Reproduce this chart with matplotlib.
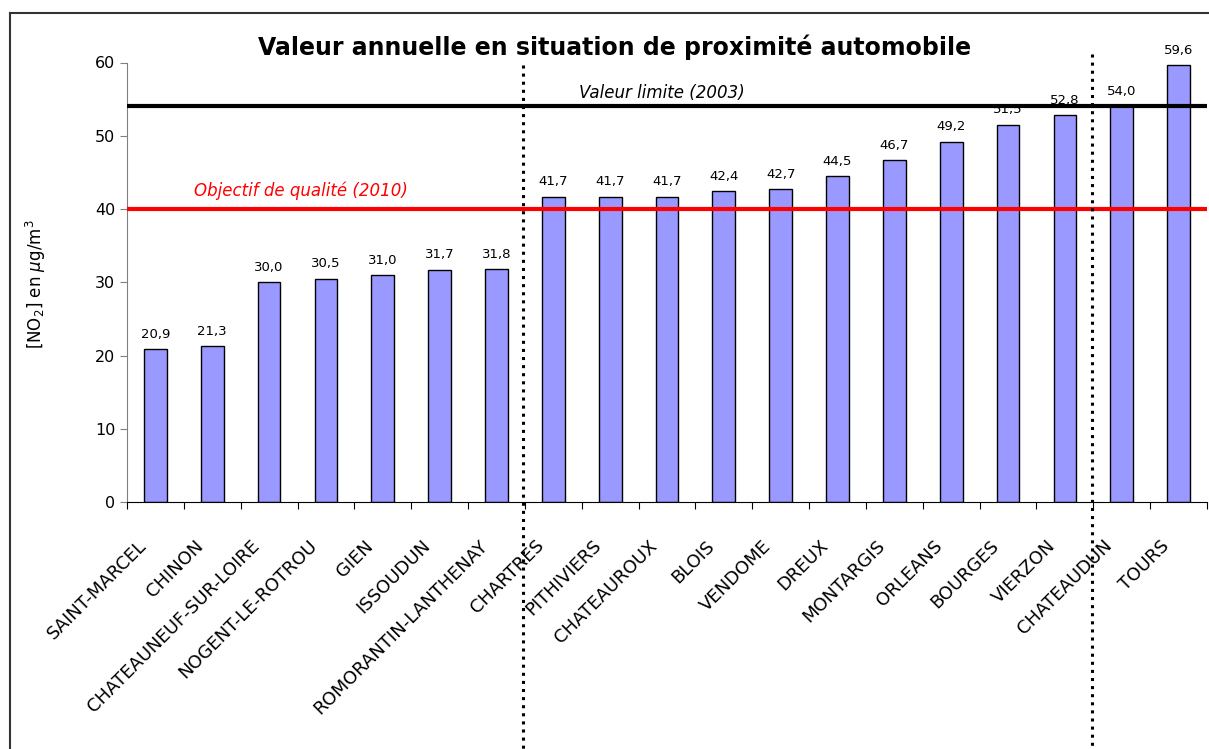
import matplotlib
matplotlib.use("Agg")
import matplotlib.pyplot as plt
from matplotlib.lines import Line2D

cities = ["SAINT-MARCEL", "CHINON", "CHATEAUNEUF-SUR-LOIRE", "NOGENT-LE-ROTROU",
          "GIEN", "ISSOUDUN", "ROMORANTIN-LANTHENAY", "CHARTRES", "PITHIVIERS",
          "CHATEAUROUX", "BLOIS", "VENDOME", "DREUX", "MONTARGIS", "ORLEANS",
          "BOURGES", "VIERZON", "CHATEAUDUN", "TOURS"]
values = [20.9, 21.3, 30.0, 30.5, 31.0, 31.7, 31.8, 41.7, 41.7, 41.7, 42.4,
          42.7, 44.5, 46.7, 49.2, 51.5, 52.8, 54.0, 59.6]
limit_value = 54
quality_objective = 40
separators = [6.47, 16.48]
yticks = [0, 10, 20, 30, 40, 50, 60]

plt.rcParams['font.family'] = ['DejaVu Sans']
W, H = 1209, 749
fig = plt.figure(figsize=(W / 100, H / 100), dpi=100)
ax = fig.add_axes([127 / W, 1 - 502 / H, (1207 - 127) / W, (502 - 62.5) / H])

x = list(range(len(cities)))
ax.bar(x, values, width=0.4, color="#9999FF", edgecolor="black", linewidth=1.0, zorder=2)
for xi, v in zip(x, values):
    ax.annotate(f"{v:.1f}".replace(".", ","), (xi, v), xytext=(0, 6),
                textcoords="offset points", ha="center", va="bottom", fontsize=9.5)

ax.set_xlim(-0.5, len(cities) - 0.5)
ax.set_ylim(0, 60)
ax.set_yticks(yticks)
ax.set_yticklabels([str(t) for t in yticks], fontsize=11.5)
ax.set_xticks([i - 0.5 for i in range(len(cities) + 1)])
ax.set_xticklabels([])
for xi, name in zip(x, cities):
    ax.annotate(name, (xi, 0), xytext=(-12, -41), textcoords="offset pixels",
                rotation=45, ha="right", va="center", rotation_mode="anchor",
                fontsize=13, annotation_clip=False)
ax.tick_params(axis="x", length=5, direction="out")
ax.tick_params(axis="y", length=5, direction="out", color="#808080")

for s in ["top", "right"]:
    ax.spines[s].set_visible(False)
ax.spines["left"].set_color("#808080")
ax.spines["bottom"].set_color("black")

ax.axhline(limit_value, color="black", linewidth=3, zorder=3)
ax.axhline(quality_objective, color="#FF0000", linewidth=3, zorder=3)
ax.text(8.91, 54.6, "Valeur limite (2003)", style="italic",
        fontsize=12, ha="center", va="bottom")
ax.text(2.56, 41.2, "Objectif de qualité (2010)", style="italic",
        fontsize=12, ha="center", va="bottom", color="#FF0000")

ax.plot([separators[0]] * 2, [59.7, -34], color="black", linestyle=":",
        linewidth=2.2, clip_on=False, zorder=4)
ax.plot([separators[1]] * 2, [61.1, -34], color="black", linestyle=":",
        linewidth=2.2, clip_on=False, zorder=4)

ax.set_ylabel(r"[NO$_2$] en $\mu$g/m$^3$", fontsize=12)
ax.yaxis.set_label_coords(-0.073, 0.496)

fig.text(615 / W, 1 - 47 / H, "Valeur annuelle en situation de proximité automobile",
         ha="center", va="center", fontsize=17, fontweight="bold")

fl = 10 / W
ft = 1 - 13 / H
fig.add_artist(Line2D([fl, 1], [ft, ft], transform=fig.transFigure, color="#333333", linewidth=1.5))
fig.add_artist(Line2D([fl, fl], [0, ft], transform=fig.transFigure, color="#333333", linewidth=1.5))

fig.savefig("out.png", dpi=100)
